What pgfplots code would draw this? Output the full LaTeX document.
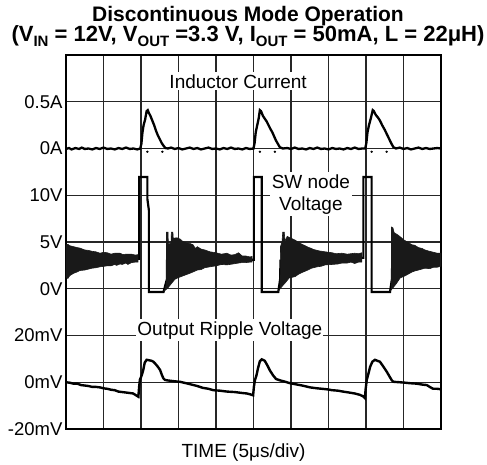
\documentclass[border=0pt]{standalone}
\usepackage{fontspec}
\setmainfont{Liberation Sans}
\usepackage{pgfplots}
\pgfplotsset{compat=1.18}
\newcommand{\sub}[1]{\raisebox{-4.5pt}{\fontsize{15}{15}\selectfont #1}}
\begin{document}
\begin{tikzpicture}
\useasboundingbox (-66pt,-35pt) rectangle (421pt,429pt);
\node[anchor=base, align=center, font=\bfseries, inner sep=0pt] at (182pt,387pt) {{\fontsize{21}{17}\selectfont Discontinuous Mode Operation}\\[-1pt]{\fontsize{22}{17}\selectfont (V\sub{IN} = 12V, V\sub{OUT} =3.3 V, I\sub{OUT} = 50mA, L = 22μH)}};
\begin{axis}[
  at={(0pt,0pt)}, anchor=south west, scale only axis,
  width=375pt, height=374pt,
  xmin=0, xmax=10, ymin=0, ymax=8,
  xtick={1,...,9}, xticklabels={},
  ytick={0,...,7},
  yticklabels={-20mV,0mV,20mV,0V,5V,10V,0A,0.5A},
  yticklabel style={font=\fontsize{18.5}{20}\selectfont},
  major tick length=0pt,
  grid=major,
  major grid style={draw=black!85, line width=1.1pt},
  axis line style={line width=1.6pt},
  clip=true,
]
% SW node main line
\addplot[black, line width=2.2pt, line join=miter] coordinates {
(0,3.6)(1.92,3.64)(1.95,3.64)(1.95,5.39)(2.17,5.39)(2.17,4.92)(2.21,4.68)(2.21,2.93)(2.6,2.93)(2.69,3.2)(2.69,3.6)(4.96,3.62)(5.01,3.62)(5.01,5.39)(5.22,5.39)(5.22,2.93)(5.66,2.93)(5.71,3.2)(5.72,3.6)(7.9,3.66)(7.93,3.66)(7.93,5.39)(8.15,5.39)(8.15,2.93)(8.64,2.93)(8.69,3.2)(8.7,3.6)(10,3.62)};
% SW node ringing bands
\addplot[fill=black!90, draw=black!90, line width=0.6pt] coordinates {
(0,3.94)(0.05,3.95)(0.1,3.92)(0.2,3.90)(0.3,3.88)(0.37,3.87)(0.5,3.83)(0.6,3.82)(0.7,3.80)(0.8,3.79)(0.91,3.76)(1.0,3.78)(1.1,3.77)(1.2,3.74)(1.3,3.76)(1.44,3.76)(1.52,3.73)(1.6,3.74)(1.75,3.74)(1.85,3.72)(1.92,3.73)
(1.92,3.57)(1.85,3.57)(1.75,3.56)(1.65,3.52)(1.6,3.55)(1.5,3.52)(1.44,3.53)(1.35,3.50)(1.3,3.52)(1.2,3.49)(1.1,3.49)(0.91,3.47)(0.8,3.45)(0.7,3.44)(0.6,3.42)(0.5,3.40)(0.37,3.39)(0.3,3.36)(0.2,3.33)(0.1,3.28)(0.05,3.22)(0,3.25)} -- cycle;
\addplot[fill=black!90, draw=black!90, line width=0.6pt] coordinates {
(2.62,2.95)(2.68,3.1)(2.68,4.21)(2.72,4.21)(2.73,3.95)(2.8,3.98)(2.81,4.21)(2.85,4.21)(2.86,4.08)(2.96,4.09)(3.05,4.06)(3.1,4.02)(3.2,3.98)(3.3,3.97)(3.39,3.94)(3.45,3.86)(3.5,3.9)(3.6,3.85)(3.7,3.83)(3.84,3.79)(4.0,3.77)(4.15,3.74)(4.29,3.76)(4.4,3.72)(4.5,3.73)(4.6,3.77)(4.7,3.70)(4.8,3.70)(4.91,3.68)(4.96,3.69)
(4.96,3.57)(4.91,3.57)(4.8,3.56)(4.7,3.56)(4.6,3.55)(4.45,3.53)(4.29,3.51)(4.15,3.52)(4.0,3.49)(3.84,3.47)(3.7,3.45)(3.6,3.41)(3.5,3.40)(3.39,3.36)(3.3,3.33)(3.2,3.30)(3.1,3.27)(3.0,3.24)(2.9,3.20)(2.8,3.1)(2.72,3.02)} -- cycle;
\addplot[fill=black!90, draw=black!90, line width=0.6pt] coordinates {
(5.66,2.95)(5.71,3.0)(5.72,3.9)(5.76,4.0)(5.78,4.21)(5.82,4.21)(5.84,4.02)(5.9,4.12)(6.0,4.08)(6.11,4.04)(6.2,3.99)(6.3,3.95)(6.45,3.89)(6.55,3.86)(6.6,3.84)(6.75,3.81)(6.91,3.79)(7.1,3.77)(7.2,3.75)(7.36,3.76)(7.5,3.74)(7.6,3.75)(7.7,3.76)(7.8,3.75)(7.89,3.77)
(7.89,3.57)(7.8,3.57)(7.7,3.54)(7.6,3.57)(7.5,3.55)(7.36,3.55)(7.25,3.53)(7.1,3.52)(6.91,3.51)(6.8,3.48)(6.7,3.47)(6.55,3.44)(6.45,3.40)(6.3,3.35)(6.2,3.31)(6.11,3.26)(5.95,3.23)(5.84,3.12)(5.76,3.05)} -- cycle;
\addplot[fill=black!90, draw=black!90, line width=0.6pt] coordinates {
(8.64,2.95)(8.68,3.0)(8.68,4.32)(8.72,4.30)(8.75,4.2)(8.85,4.15)(8.93,4.1)(9.0,4.05)(9.1,4.0)(9.23,3.94)(9.3,3.93)(9.4,3.88)(9.5,3.86)(9.57,3.83)(9.7,3.80)(9.8,3.78)(9.9,3.76)(10,3.76)
(10,3.48)(9.9,3.46)(9.8,3.46)(9.7,3.43)(9.57,3.44)(9.4,3.40)(9.3,3.38)(9.23,3.36)(9.05,3.28)(8.91,3.23)(8.8,3.1)(8.72,3.02)} -- cycle;
% Inductor current
\addplot[black, line width=2.3pt] coordinates {
(0,5.99)(0.08,6.01)(0.15,5.98)(0.25,6.01)(0.35,5.99)(0.42,6.02)(0.5,5.99)(0.6,6.0)(0.7,5.98)(0.8,6.01)(0.9,5.99)(1.0,6.02)(1.1,5.99)(1.2,6.0)(1.3,5.98)(1.4,6.01)(1.5,5.99)(1.6,6.02)(1.7,5.99)(1.8,6.0)(1.9,5.98)(1.98,6.0)(2.01,6.1)(2.04,6.35)(2.07,6.5)(2.11,6.62)(2.15,6.8)(2.18,6.82)(2.21,6.76)(2.25,6.7)(2.3,6.6)(2.35,6.5)(2.4,6.38)(2.45,6.28)(2.5,6.2)(2.55,6.12)(2.6,6.06)(2.65,6.01)(2.72,6.0)(2.8,6.02)(2.9,5.99)(3.0,6.01)(3.1,5.98)(3.2,6.0)(3.3,6.02)(3.4,5.99)(3.5,6.01)(3.6,5.98)(3.7,6.0)(3.8,6.02)(3.9,5.99)(4.0,6.0)(4.1,5.98)(4.2,6.01)(4.3,5.99)(4.4,6.02)(4.5,5.99)(4.6,6.0)(4.7,5.98)(4.8,6.01)(4.9,5.99)(5.0,6.0)(5.03,6.12)(5.06,6.35)(5.1,6.5)(5.14,6.65)(5.17,6.82)(5.2,6.8)(5.25,6.7)(5.3,6.64)(5.35,6.58)(5.4,6.5)(5.45,6.42)(5.5,6.35)(5.55,6.26)(5.6,6.17)(5.65,6.1)(5.7,6.03)(5.78,6.0)(5.9,6.01)(6.0,5.99)(6.1,6.02)(6.2,5.99)(6.3,6.0)(6.4,5.98)(6.5,6.01)(6.6,5.99)(6.7,6.02)(6.8,5.99)(6.9,6.0)(7.0,5.98)(7.1,6.01)(7.2,5.99)(7.3,6.0)(7.4,5.98)(7.5,6.01)(7.6,5.99)(7.7,6.02)(7.8,5.99)(7.9,6.0)(7.98,6.0)(8.01,6.12)(8.04,6.35)(8.08,6.5)(8.13,6.65)(8.18,6.82)(8.21,6.8)(8.26,6.72)(8.32,6.66)(8.37,6.6)(8.43,6.5)(8.5,6.4)(8.56,6.3)(8.62,6.2)(8.68,6.1)(8.73,6.03)(8.8,6.0)(8.9,6.02)(9.0,5.99)(9.1,6.01)(9.2,5.98)(9.3,6.0)(9.4,6.02)(9.5,5.99)(9.6,6.01)(9.7,5.99)(9.8,6.0)(9.9,6.01)(10,6.0)};
\addplot[only marks, mark=*, mark size=0.9pt, black] coordinates {(2.17,5.93)(2.57,5.93)(5.17,5.93)(5.57,5.93)(8.15,5.93)(8.55,5.93)};
% Output ripple
\addplot[black, line width=2.4pt] coordinates {
(0,1.0)(0.1,0.99)(0.2,0.97)(0.3,0.97)(0.4,0.94)(0.5,0.93)(0.6,0.92)(0.7,0.9)(0.8,0.9)(0.91,0.89)(1.0,0.87)(1.1,0.86)(1.2,0.84)(1.3,0.83)(1.4,0.8)(1.5,0.79)(1.6,0.78)(1.7,0.77)(1.79,0.76)(1.87,0.72)(1.93,0.69)(1.95,0.9)(1.97,1.05)(2.02,1.15)(2.06,1.26)(2.1,1.42)(2.15,1.48)(2.22,1.47)(2.28,1.46)(2.33,1.44)(2.4,1.38)(2.46,1.32)(2.51,1.26)(2.56,1.15)(2.6,1.08)(2.64,1.05)(2.7,1.04)(2.8,1.03)(2.9,1.02)(3.04,1.01)(3.2,0.98)(3.35,0.95)(3.5,0.92)(3.65,0.88)(3.8,0.86)(3.93,0.83)(4.1,0.82)(4.3,0.8)(4.5,0.79)(4.7,0.77)(4.82,0.76)(4.92,0.74)(4.99,0.72)(5.01,0.9)(5.04,1.05)(5.08,1.15)(5.12,1.3)(5.17,1.45)(5.22,1.49)(5.3,1.46)(5.37,1.36)(5.44,1.25)(5.52,1.15)(5.6,1.07)(5.71,1.04)(5.85,1.01)(5.97,0.98)(6.1,0.96)(6.3,0.93)(6.51,0.89)(6.7,0.87)(6.95,0.85)(7.1,0.83)(7.25,0.82)(7.39,0.8)(7.55,0.78)(7.7,0.76)(7.84,0.73)(7.92,0.7)(7.97,0.66)(7.99,0.85)(8.02,1.05)(8.07,1.2)(8.11,1.33)(8.17,1.44)(8.24,1.48)(8.3,1.46)(8.37,1.44)(8.45,1.35)(8.55,1.23)(8.63,1.12)(8.69,1.04)(8.73,1.01)(8.9,1.0)(9.05,0.99)(9.17,0.98)(9.35,0.97)(9.5,0.95)(9.62,0.94)(9.7,0.9)(9.79,0.86)(9.9,0.86)(10,0.85)};
% labels
\node[fill=white, inner xsep=1pt, inner ysep=2pt, anchor=base, font=\fontsize{19}{19}\selectfont] at (axis cs:4.59,7.29) {Inductor Current};
\node[fill=white, inner xsep=2pt, inner ysep=2pt, align=center, font=\fontsize{19}{22}\selectfont] at (axis cs:6.53,5.02) {SW node\\Voltage};
\node[fill=white, inner xsep=1pt, inner ysep=2pt, anchor=base, font=\fontsize{19}{19}\selectfont] at (axis cs:4.37,2.01) {Output Ripple Voltage};
\end{axis}
\node[anchor=base, font=\fontsize{19}{19}\selectfont, inner sep=0pt] at (177.5pt,-28pt) {TIME (5μs/div)};
\end{tikzpicture}
\end{document}
